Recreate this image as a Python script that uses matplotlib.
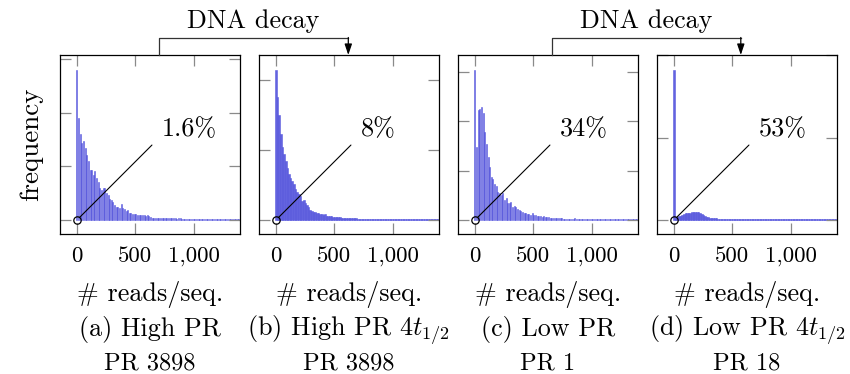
import numpy as np
import matplotlib
matplotlib.use("Agg")
import matplotlib.pyplot as plt

plt.rcParams['font.family'] = 'cmr10'
plt.rcParams['mathtext.fontset'] = 'cm'
plt.rcParams['axes.formatter.use_mathtext'] = True

# histogram data: bin width 14 reads, relative frequency (tick unit = 1)
bin_width = 14

freq_a = [2.80, 1.91, 1.60, 1.43, 1.48, 1.34, 1.21, 1.11, 0.93, 0.94,
          0.84, 0.92, 0.78, 0.71, 0.59, 0.56, 0.59, 0.60, 0.50, 0.47,
          0.39, 0.37, 0.34, 0.28, 0.25, 0.25, 0.22, 0.30, 0.22, 0.20,
          0.17, 0.19, 0.14, 0.14, 0.12, 0.12, 0.11, 0.09, 0.09, 0.09,
          0.10, 0.09, 0.08, 0.09, 0.07, 0.06,
          0.045, 0.04, 0.045, 0.04, 0.035, 0.04, 0.04, 0.035, 0.03, 0.04,
          0.035, 0.03, 0.035, 0.03, 0.03, 0.025, 0.03, 0.03, 0.025,
          0.025, 0.02, 0.025, 0.02, 0.02, 0.022, 0.02, 0.018, 0.02, 0.02,
          0.018, 0.02, 0.016, 0.018, 0.02, 0.016, 0.015, 0.018, 0.015, 0.016,
          0.015, 0.014, 0.016, 0.015, 0.013, 0.015, 0.014, 0.013, 0.015, 0.012,
          0.014, 0.013, 0.012, 0.013, 0.012]

freq_b = [2.15, 1.76, 1.50, 1.23, 1.05, 0.95, 0.84, 0.74, 0.66, 0.60,
          0.56, 0.51, 0.45, 0.40, 0.38, 0.34, 0.28, 0.29, 0.24, 0.22,
          0.18, 0.15, 0.13, 0.12, 0.11, 0.10, 0.105, 0.09, 0.09, 0.075,
          0.085, 0.06, 0.065, 0.06, 0.06, 0.05, 0.05, 0.045, 0.04,
          0.04, 0.035, 0.035, 0.03, 0.03, 0.03, 0.028, 0.028, 0.025, 0.025,
          0.025, 0.022,
          0.022, 0.02, 0.022, 0.02, 0.02, 0.018, 0.02, 0.018, 0.018, 0.02,
          0.017, 0.018, 0.016, 0.018, 0.016, 0.017, 0.015, 0.016, 0.016, 0.015,
          0.016, 0.014, 0.015, 0.015, 0.014, 0.015, 0.013, 0.014, 0.014, 0.013,
          0.014, 0.013, 0.012, 0.013, 0.013, 0.012, 0.013, 0.012, 0.012, 0.013,
          0.012, 0.011, 0.012, 0.012, 0.011, 0.012, 0.011, 0.011, 0.012]

freq_c = [3.04, 1.49, 2.23, 2.26, 2.30, 2.16, 1.79, 1.55, 1.28, 1.08,
          0.88, 0.84, 0.73, 0.68, 0.57, 0.54, 0.51, 0.54, 0.41, 0.44,
          0.35, 0.34, 0.37, 0.27, 0.28, 0.27, 0.22, 0.20, 0.19, 0.17,
          0.15, 0.14, 0.12, 0.12, 0.10, 0.14, 0.10, 0.10, 0.08, 0.09,
          0.08, 0.07, 0.08, 0.06, 0.07, 0.06, 0.05, 0.05, 0.045, 0.04,
          0.04, 0.04, 0.035, 0.035, 0.03, 0.03, 0.03, 0.03, 0.03, 0.025,
          0.03, 0.04,
          0.03, 0.025, 0.025, 0.02, 0.022, 0.02, 0.02, 0.022, 0.02, 0.02,
          0.018, 0.02, 0.02, 0.018, 0.018, 0.02, 0.017, 0.018, 0.016, 0.018,
          0.016, 0.017, 0.016, 0.015, 0.016, 0.015, 0.016, 0.015, 0.014, 0.015,
          0.015, 0.014, 0.015, 0.014, 0.013, 0.014, 0.014, 0.013]

freq_d = [1.82, 0.03, 0.04, 0.05, 0.055, 0.065, 0.07, 0.08, 0.085, 0.09,
          0.09, 0.095, 0.093, 0.095, 0.10, 0.095, 0.085, 0.075, 0.06, 0.05,
          0.04, 0.035, 0.03, 0.025,
          0.022, 0.02, 0.02, 0.018, 0.018, 0.017, 0.016, 0.016, 0.015, 0.015,
          0.014, 0.014, 0.014, 0.013, 0.013, 0.013, 0.012, 0.012, 0.012, 0.012,
          0.011, 0.012, 0.011, 0.011, 0.012, 0.011, 0.011, 0.01, 0.011, 0.011,
          0.01, 0.011, 0.01, 0.01, 0.011, 0.01, 0.01, 0.01, 0.011, 0.01,
          0.01, 0.01, 0.009, 0.01, 0.01, 0.01, 0.009, 0.01, 0.01, 0.009,
          0.01, 0.009, 0.009, 0.01, 0.009, 0.009, 0.01, 0.009, 0.009, 0.009,
          0.009, 0.01, 0.009, 0.009, 0.009, 0.008, 0.009, 0.009, 0.009, 0.008,
          0.009, 0.009, 0.008, 0.009, 0.008, 0.009]

panels = [freq_a, freq_b, freq_c, freq_d]
percent = ['1.6%', '8%', '34%', '53%']
captions = ['(a) High PR', r'(b) High PR $4t_{1/2}$', '(c) Low PR', r'(d) Low PR $4t_{1/2}$']
pr_labels = ['PR 3898', 'PR 3898', 'PR 1', 'PR 18']
xtick_vals = [0, 500, 1000]
xtick_text = ['0', '500', '1,000']

W, H = 850, 374
fig = plt.figure(figsize=(W / 100, H / 100), dpi=100)

lefts = [60, 259, 458, 657]
top, bottom = 55, 234
bar_frac = [0.6, 1.0, 0.6, 1.0]
bar_col = '#5252dc'

for k, data in enumerate(panels):
    ax = fig.add_axes([lefts[k] / W, 1 - bottom / H, 180 / W, (bottom - top) / H])
    data = np.array(data)
    x = np.arange(len(data)) * bin_width
    ax.bar(x, data, width=bin_width * bar_frac[k], color=bar_col, alpha=0.9,
           edgecolor=bar_col, linewidth=0.4)
    m = data.max()
    ax.set_xlim(-145, 1395)
    ax.set_ylim(-0.093 * m, 1.1 * m)
    ax.set_xticks(xtick_vals)
    ax.set_xticklabels(xtick_text, fontsize=16.5)
    ax.set_yticks(np.arange(0, int(1.1 * m) + 1))
    ax.set_yticklabels([])
    ax.tick_params(direction='in', length=8, width=0.9, color='#8a8a8a',
                   top=True, right=True, pad=9)
    for s in ax.spines.values():
        s.set_linewidth(0.9)

    # pin: circle at origin and line to the percentage label
    ax.plot([0], [0], 'o', ms=5.3, mfc='none', mec='black', mew=0.9, clip_on=False, zorder=5)
    ax.annotate('', xy=(0, 0), xytext=(75 * 0.72, 75 * 0.72), textcoords='offset points',
                arrowprops=dict(arrowstyle='-', color='black', lw=0.8, shrinkA=0, shrinkB=2.6))
    ax.annotate(percent[k], xy=(0, 0), xytext=(85 * 0.72, 84 * 0.72), textcoords='offset points',
                ha='left', va='baseline', fontsize=18.8)

    cx = (lefts[k] + 90) / W
    fig.text(cx, 1 - 301.5 / H, '# reads/seq.', ha='center', va='baseline', fontsize=18.8)
    fig.text(cx, 1 - 336 / H, captions[k], ha='center', va='baseline', fontsize=18.8)
    fig.text(cx, 1 - 369 / H, pr_labels[k], ha='center', va='baseline', fontsize=17.6)

fig.text(31 / W, 1 - 144.5 / H, 'frequency', rotation=90, ha='center', va='center', fontsize=19.5)

# "DNA decay" brackets
ov = fig.add_axes([0, 0, 1, 1], zorder=10)
ov.set_xlim(0, W)
ov.set_ylim(H, 0)
ov.axis('off')
for x0, x1 in [(158.6, 348.3), (551.9, 740.8)]:
    ov.plot([x0, x0, x1], [top, 37.5, 37.5], color='#333333', lw=0.9)
    ov.annotate('', xy=(x1, top), xytext=(x1, 37.5),
                arrowprops=dict(arrowstyle='-|>,head_width=0.22,head_length=0.65',
                                mutation_scale=10, color='black', lw=0.9,
                                shrinkA=0, shrinkB=0))
    ov.text((x0 + x1) / 2, 27.7, 'DNA decay', ha='center', va='baseline', fontsize=18.8)

fig.savefig('out.png', dpi=100)
